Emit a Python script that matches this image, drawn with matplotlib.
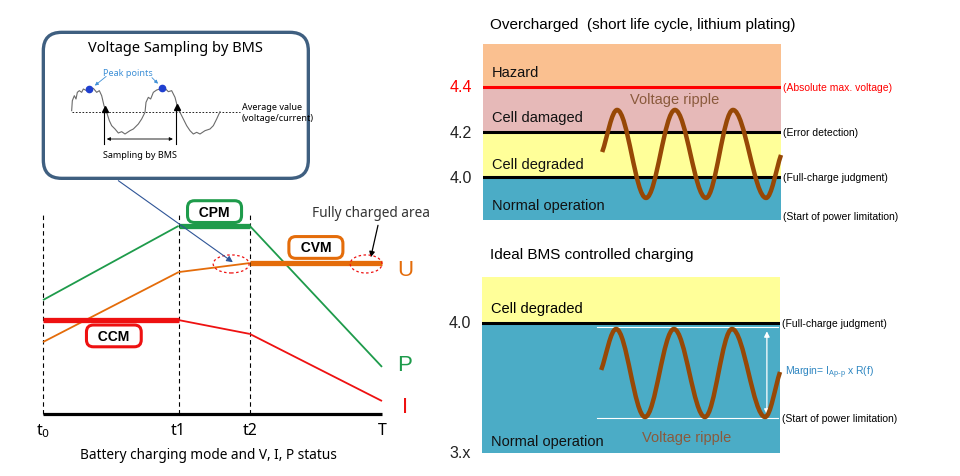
import matplotlib
matplotlib.use("Agg")
import matplotlib.pyplot as plt
from matplotlib.patches import FancyBboxPatch, Ellipse, ConnectionPatch
from matplotlib.path import Path
from matplotlib.patches import PathPatch

W, H = 960, 477

# ---- left chart: charging modes (time in arbitrary units, level in arbitrary units)
t_ticks = [0, 4, 6.1, 10]
t_labels = ["t$_0$", "t1", "t2", "T"]
p_vals = [5.18, 8.55, 8.55, 2.14]
u_vals = [3.27, 6.45, 6.86, 6.86]
i_vals = [4.27, 4.27, 3.64, 0.59]
# which segment is the controlled (thick) one for each curve
p_thick, u_thick, i_thick = 1, 2, 0
modes = ["CCM", "CPM", "CVM"]
mode_pos = [(2.09, 3.55), (5.06, 9.2), (8.05, 7.57)]

# ---- BMS sampling sketch (sketch units)
wave_x = [95, 97, 103, 108, 112, 118, 125, 130, 140, 148, 160, 170, 178, 185, 192, 200,
          208, 215, 225, 235, 245, 255, 270, 280, 295, 305, 315, 318, 325, 332, 340, 350,
          360, 375, 385, 395, 405, 412, 420, 430, 440, 450, 460, 470, 480, 495, 510, 520,
          530, 540]
wave_y = [245, 215, 200, 210, 190, 185, 190, 180, 185, 180, 178, 190, 185, 200, 230, 250,
          275, 290, 300, 312, 308, 315, 305, 300, 285, 270, 250, 220, 205, 210, 190, 183,
          180, 178, 188, 185, 205, 232, 250, 270, 290, 305, 315, 310, 315, 305, 300, 290,
          270, 248]
peak_x = [148, 367]
peak_y = [180, 178]
sample_x = [195, 410]
sample_y = [240, 235]

# ---- right panels: voltage ripple
rip_x = [0.40, 0.45, 0.547, 0.644, 0.748, 0.839, 0.95, 1.0]
rip_top = [4.111, 4.298, 3.907, 4.298, 3.907, 4.298, 3.907, 4.098]
rip_bot = [3.791, 3.973, 3.582, 3.973, 3.582, 3.973, 3.582, 3.782]

top_levels = [4.0, 4.2, 4.4]
top_ylim = (3.809, 4.591)
bot_ylim = (3.422, 4.204)

GREEN = "#1e9b4b"
ORANGE = "#e46c0a"
RED = "#ee1111"
BROWN = "#974806"
BLUE_BAND = "#4bacc6"


def px_axes(fig, x0, y0, x1, y1):
    return fig.add_axes([x0 / W, 1 - y1 / H, (x1 - x0) / W, (y1 - y0) / H])


def ripple_patch(xs, ys, k=0.36):
    verts = [(xs[0], ys[0])]
    codes = [Path.MOVETO]
    n = len(xs)
    for j in range(n - 1):
        x0, y0, x1, y1 = xs[j], ys[j], xs[j + 1], ys[j + 1]
        dx = x1 - x0
        if j == 0:
            c1 = (x0 + dx / 3, y0 + (y1 - y0) / 3)
        else:
            c1 = (x0 + k * dx, y0)
        if j == n - 2:
            c2 = (x1 - dx / 3, y1 - (y1 - y0) / 3)
        else:
            c2 = (x1 - k * dx, y1)
        verts += [c1, c2, (x1, y1)]
        codes += [Path.CURVE4] * 3
    return PathPatch(Path(verts, codes), fill=False, edgecolor=BROWN, lw=3.2,
                     capstyle="butt", clip_on=False, zorder=5)


fig = plt.figure(figsize=(W / 100, H / 100), dpi=100)
fig.patch.set_facecolor("white")

# ================= left chart =================
LF = "Noto Sans"
ax = px_axes(fig, 43, 195, 382, 415)
ax.set_xlim(0, 10)
ax.set_ylim(0, 10)
ax.axis("off")

ax.plot([t_ticks[0], t_ticks[-1]], [0, 0], color="black", lw=2.3, clip_on=False,
        solid_capstyle="butt")
for t in t_ticks[:3]:
    ax.plot([t, t], [0, 9.09], color="black", lw=0.8, ls=(0, (4, 3)), clip_on=False)

for vals, thick, col in [(p_vals, p_thick, GREEN), (u_vals, u_thick, ORANGE),
                         (i_vals, i_thick, RED)]:
    for j in range(len(t_ticks) - 1):
        lw = 3.8 if j == thick else 1.3
        ax.plot(t_ticks[j:j + 2], vals[j:j + 2], color=col, lw=lw, clip_on=False,
                solid_capstyle="butt", zorder=3 if j == thick else 2)

for lab, y, col in [("U", 6.55, ORANGE), ("P", 2.27, GREEN), ("I", 0.32, RED)]:
    ax.text(10.68, y, lab, color=col, fontsize=16, ha="center", va="center",
            family="Liberation Sans")

for t, lab in zip(t_ticks, t_labels):
    ax.text(t, -0.75, lab, fontsize=11.5, ha="center", va="center", family=LF)
ax.text(4.87, -1.82, "Battery charging mode and V, I, P status", fontsize=9.8,
        ha="center", va="center", family=LF)

for name, (mx, my), col in zip(modes, mode_pos, [RED, GREEN, ORANGE]):
    ax.text(mx, my, "  " + name + "  ", fontsize=10, fontweight="bold", ha="center",
            va="center", family="Liberation Sans", zorder=6,
            bbox=dict(boxstyle="round,pad=0.28,rounding_size=0.5", fc="white",
                      ec=col, lw=2.2))

for cx, w in [(5.55, 1.06), (9.53, 0.94)]:
    ax.add_patch(Ellipse((cx, 6.82), w, 0.82, fill=False, ec=RED, lw=0.9,
                         ls=(0, (2, 2)), clip_on=False, zorder=7))

ax.annotate("", xy=(9.65, 7.0), xytext=(9.9, 8.7),
            arrowprops=dict(arrowstyle="-|>", color="black", lw=0.9, mutation_scale=8))
ax.text(9.68, 9.18, "Fully charged area", fontsize=9.8, ha="center", va="center",
        family=LF, color="#333333")

# ================= BMS sampling box =================
bx = px_axes(fig, 40, 30, 317, 180)
bx.set_xlim(0, 831)
bx.set_ylim(450, 0)
bx.axis("off")
bx.add_patch(FancyBboxPatch((10, 10), 795, 438, boxstyle="round,pad=0,rounding_size=55",
                            fc="white", ec="#3f5f80", lw=2.4, clip_on=False))
bx.text(405, 55, "Voltage Sampling by BMS", fontsize=10.5, ha="center", va="center",
        family=LF)
bx.plot([95, 600], [250, 250], color="black", lw=0.6, ls=(0, (2, 2)))
bx.plot(wave_x, wave_y, color="#6b6b6b", lw=0.8)
bx.plot(peak_x, peak_y, "o", color="#1f3fd0", ms=4.5)
bx.plot(sample_x, sample_y, "^", color="black", ms=4)
for sx in sample_x:
    bx.plot([sx - 3, sx - 3], [245, 345], color="black", lw=0.8)
bx.annotate("", xy=(sample_x[0] - 3, 330), xytext=(sample_x[1] - 3, 330),
            arrowprops=dict(arrowstyle="<|-|>", color="black", lw=0.6, mutation_scale=5))
bx.text(265, 130, "Peak points", fontsize=6.5, color="#3d8fd6", ha="center", va="center",
        family=LF)
bx.annotate("", xy=(158, 175), xytext=(205, 137),
            arrowprops=dict(arrowstyle="-|>", color="#3d8fd6", lw=0.6, mutation_scale=5))
bx.annotate("", xy=(360, 170), xytext=(330, 140),
            arrowprops=dict(arrowstyle="-|>", color="#3d8fd6", lw=0.6, mutation_scale=5))
bx.text(300, 375, "Sampling by BMS", fontsize=6.5, ha="center", va="center", family=LF)
bx.text(605, 250, "Average value\n(voltage/current)", fontsize=6.5, ha="left",
        va="center", family=LF, linespacing=1.3)

fig.add_artist(ConnectionPatch(xyA=(235, 455), coordsA=bx.transData, xyB=(5.6, 6.9),
                               coordsB=ax.transData, arrowstyle="-|>", color="#2f5597",
                               lw=0.8, mutation_scale=9, zorder=8))

# ================= right top: overcharged =================
RF = "Liberation Sans"
rt = px_axes(fig, 483, 45, 781, 221)
rt.set_xlim(0, 1)
rt.set_ylim(*top_ylim)
rt.axis("off")
rt.axhspan(top_levels[2], top_ylim[1], color="#fac090", lw=0)
rt.axhspan(top_levels[1], top_levels[2], color="#e6b9b8", lw=0)
rt.axhspan(top_levels[0], top_levels[1], color="#ffff99", lw=0)
rt.axhspan(top_ylim[0], top_levels[0], color=BLUE_BAND, lw=0)
rt.axhline(top_levels[2], color="#ff0000", lw=2.2)
rt.axhline(top_levels[1], color="black", lw=2.2)
rt.axhline(top_levels[0], color="black", lw=2.2)
rt.add_patch(ripple_patch(rip_x, rip_top))

for lv, col in zip(top_levels, ["#222222", "#222222", "#ff0000"]):
    rt.text(-0.074, lv, f"{lv:.1f}", color=col, fontsize=11.5, ha="center", va="center",
            family=RF)
for lab, y in [("Hazard", 4.467), ("Cell damaged", 4.267), ("Cell degraded", 4.058),
               ("Normal operation", 3.876)]:
    rt.text(0.03, y, lab, fontsize=10.5, ha="left", va="center", family=RF,
            color="#111111")
rt.text(0.644, 4.347, "Voltage ripple", fontsize=10.5, ha="center", va="center",
        family=RF, color="#8a5a3c")
rt.text(0.023, 4.68, "Overcharged  (short life cycle, lithium plating)", fontsize=11,
        ha="left", va="center", family=RF)
for lab, y, col in [("(Absolute max. voltage)", 4.4, "#ff0000"),
                    ("(Error detection)", 4.2, "black"),
                    ("(Full-charge judgment)", 4.0, "black"),
                    ("(Start of power limitation)", 3.827, "black")]:
    rt.text(1.008, y, lab, fontsize=7.5, ha="left", va="center", family=RF, color=col)

# ================= right bottom: ideal BMS =================
rb = px_axes(fig, 482, 278, 780, 454)
rb.set_xlim(0, 1)
rb.set_ylim(*bot_ylim)
rb.axis("off")
rb.axhspan(4.0, bot_ylim[1], color="#ffff99", lw=0)
rb.axhspan(bot_ylim[0], 4.0, color=BLUE_BAND, lw=0)
rb.axhline(4.0, color="black", lw=2.2)
rb.plot([0.386, 0.993], [3.982, 3.982], color="white", lw=0.8)
rb.plot([0.386, 0.993], [3.578, 3.578], color="white", lw=0.8)
rb.add_patch(ripple_patch(rip_x, rip_bot))
rb.annotate("", xy=(0.956, 3.975), xytext=(0.956, 3.58),
            arrowprops=dict(arrowstyle="<|-|>", color="white", lw=0.9, mutation_scale=8))

rb.text(-0.074, 4.0, "4.0", fontsize=11.5, ha="center", va="center", family=RF,
        color="#222222")
rb.text(-0.074, 3.422, "3.x", fontsize=11.5, ha="center", va="center", family=RF,
        color="#222222")
rb.text(0.03, 4.067, "Cell degraded", fontsize=10.5, ha="left", va="center", family=RF)
rb.text(0.03, 3.476, "Normal operation", fontsize=10.5, ha="left", va="center",
        family=RF, color="#111111")
rb.text(0.685, 3.493, "Voltage ripple", fontsize=10.5, ha="center", va="center",
        family=RF, color="#8a5a3c")
rb.text(0.027, 4.307, "Ideal BMS controlled charging", fontsize=11, ha="left",
        va="center", family=RF)
rb.text(1.008, 4.0, "(Full-charge judgment)", fontsize=7.5, ha="left", va="center",
        family=RF)
rb.text(1.008, 3.578, "(Start of power limitation)", fontsize=7.5, ha="left", va="center",
        family=RF)
rb.text(1.017, 3.782, "Margin= I$_{\\mathregular{Ap\\text{-}p}}$ x R(f)", fontsize=7.5,
        ha="left", va="center", family=RF, color="#2e86c1")

fig.savefig("out.png", dpi=100)
